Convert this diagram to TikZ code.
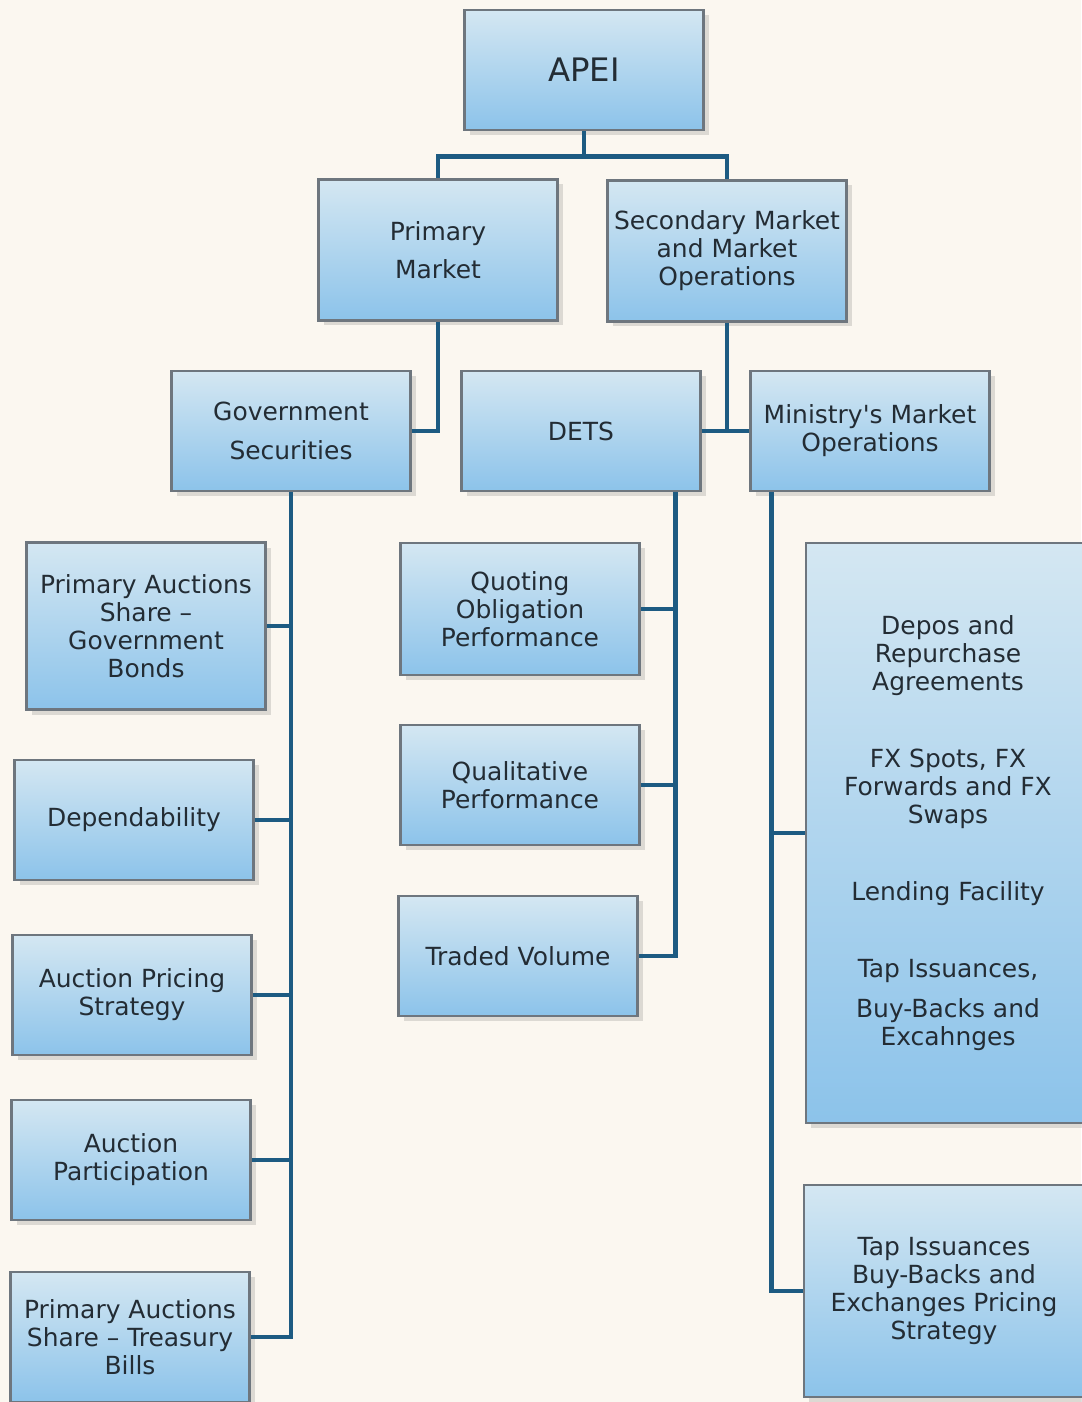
\documentclass[tikz,border=0pt]{standalone}
\usepackage{fontspec}
\setmainfont{DejaVu Sans}
\usetikzlibrary{shadows}
\definecolor{bgcream}{HTML}{FBF7F0}
\definecolor{boxtop}{HTML}{D4E7F2}
\definecolor{boxbot}{HTML}{8CC3EA}
\definecolor{boxline}{HTML}{6E767E}
\definecolor{linkblue}{HTML}{1D5B82}
\definecolor{txtgray}{HTML}{232C34}

\begin{document}
\begin{tikzpicture}[x=0.1mm,y=-0.1mm,
    bnode/.style={draw=boxline, line width=0.8pt, top color=boxtop, bottom color=boxbot, minimum width=23.9mm, minimum height=12mm, align=center, text=txtgray, font=\fontsize{7.1}{8}\selectfont, inner sep=0pt, drop shadow={shadow xshift=0.5mm, shadow yshift=-0.5mm, opacity=0.25}},
    link/.style={draw=linkblue, line width=1.4pt}]
    \useasboundingbox (0,0) rectangle (1081,1402);
    \fill[bgcream] (0,0) rectangle (1081,1402);

    \node[bnode, font=\fontsize{9.2}{11}\selectfont] (apei) at (584,70) {APEI};
    \node[bnode, minimum height=14.1mm] (pm) at (438,250) {Primary\\[1mm]Market};
    \node[bnode, minimum height=14.1mm] (sm) at (727,251) {Secondary Market\\and Market\\Operations};
    \node[bnode] (gs) at (291,431) {Government\\[1.1mm]Securities};
    \node[bnode] (dets) at (581,431) {DETS};
    \node[bnode] (mmo) at (870,431) {Ministry\textquotesingle s Market\\Operations};

    \node[bnode, minimum height=16.7mm] (gb) at (146,626) {Primary Auctions\\Share –\\Government\\Bonds};
    \node[bnode] (dep) at (134,820) {Dependability};
    \node[bnode] (aps) at (132,995) {Auction Pricing\\Strategy};
    \node[bnode] (ap) at (131,1160) {Auction\\Participation};
    \node[bnode, minimum height=13mm] (tb) at (130,1337) {Primary Auctions\\Share – Treasury\\Bills};

    \node[bnode, minimum height=13.2mm] (qo) at (520,609) {Quoting\\Obligation\\Performance};
    \node[bnode] (qp) at (520,785) {Qualitative\\Performance};
    \node[bnode] (tv) at (518,956) {Traded Volume};

    \node[bnode, minimum width=28.4mm, minimum height=58mm] (ops) at (948,833) {Depos and\\Repurchase\\Agreements\\[4.9mm]FX Spots, FX\\Forwards and FX\\Swaps\\[4.8mm]Lending Facility\\[4.9mm]Tap Issuances,\\[1.2mm]Buy-Backs and\\Excahnges};
    \node[bnode, minimum width=28mm, minimum height=21.2mm] (tap) at (944,1291) {Tap Issuances\\Buy-Backs and\\Exchanges Pricing\\Strategy};

    % top levels
    \draw[link] (apei.south) -- ++(0,25) -| (pm.north);
    \draw[link] (apei.south) -- ++(0,25) -| (sm.north);
    \draw[link] (pm.south) |- (gs.east);
    \draw[link] (sm.south) |- (mmo.west);
    \draw[link] (dets.east) -- (mmo.west);

    % government securities
    \coordinate (gtop) at (gs.south);
    \draw[link] (gtop) |- (tb.east);
    \foreach \n in {gb,dep,aps,ap}
        \draw[link] (\n.east) -- (\n.east -| gtop);

    % dets
    \coordinate (dtop) at ([xshift=-2.6mm]dets.south east);
    \draw[link] (dtop) |- (tv.east);
    \foreach \n in {qo,qp}
        \draw[link] (\n.east) -- (\n.east -| dtop);

    % ministry
    \coordinate (mtop) at ([xshift=2.2mm]mmo.south west);
    \draw[link] (mtop) |- (tap.west);
    \draw[link] (ops.west) -- (ops.west -| mtop);
\end{tikzpicture}
\end{document}
